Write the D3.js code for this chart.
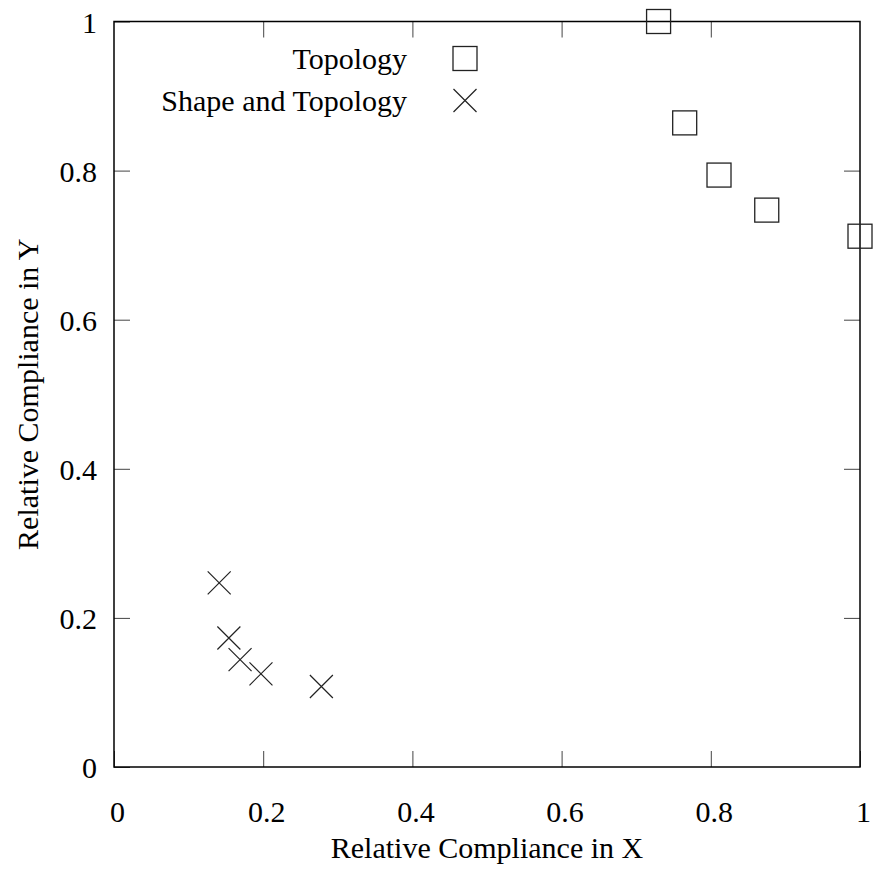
<!DOCTYPE html>
<html>
<head>
<meta charset="utf-8">
<script src="https://cdn.jsdelivr.net/npm/d3@7"></script>
<style>
  body { margin: 0; background: #fff; }
  text { font-family: "Liberation Serif", "DejaVu Serif", serif; font-size: 30px; fill: #000; }
</style>
</head>
<body>
<div id="viz"></div>
<script>
// data
var topoX = [0.73, 0.765, 0.811, 0.875, 1.0],
    topoY = [1.0, 0.864, 0.794, 0.747, 0.712],
    shapeX = [0.141, 0.154, 0.169, 0.197, 0.278],
    shapeY = [0.247, 0.173, 0.144, 0.125, 0.108],
    tickVals = [0, 0.2, 0.4, 0.6, 0.8, 1],
    seriesNames = ['Topology', 'Shape and Topology'];

var W = 873, H = 873,
    margin = { top: 21.5, right: 13, bottom: 106, left: 114 },
    width = W - margin.left - margin.right,
    height = H - margin.top - margin.bottom,
    tickLen = 16,
    sq = 24,
    cr = 11.5;

var fmt = function(d) { return d === 0 || d === 1 ? String(d) : d3.format('.1f')(d); };

var x = d3.scaleLinear().domain([0, 1]).range([0, width]);
var y = d3.scaleLinear().domain([0, 1]).range([height, 0]);

var svg = d3.select('#viz').append('svg')
    .attr('width', W)
    .attr('height', H);

var g = svg.append('g')
    .attr('transform', 'translate(' + margin.left + ',' + margin.top + ')');

// inward ticks on all four sides
function styleAxis(sel) {
  sel.select('.domain').remove();
  sel.selectAll('.tick line').attr('stroke', '#444').attr('stroke-width', 1);
}

g.append('g')
    .attr('transform', 'translate(0,' + height + ')')
    .call(d3.axisBottom(x).tickValues(tickVals).tickSize(-tickLen).tickPadding(0).tickFormat(fmt))
    .call(styleAxis)
    .selectAll('text')
    .attr('y', 55)
    .attr('dy', 0)
    .attr('dx', 3)
    .style('font-size', '30px')
    .style('font-family', '"Liberation Serif", serif')
    .attr('fill', '#000');

g.append('g')
    .call(d3.axisLeft(y).tickValues(tickVals).tickSize(-tickLen).tickPadding(0).tickFormat(fmt))
    .call(styleAxis)
    .selectAll('text')
    .attr('x', -17)
    .attr('dy', '0.35em')
    .style('font-size', '30px')
    .style('font-family', '"Liberation Serif", serif')
    .attr('fill', '#000');

g.append('g')
    .call(d3.axisTop(x).tickValues(tickVals.slice(1, -1)).tickSize(-tickLen).tickFormat(''))
    .call(styleAxis);

g.append('g')
    .attr('transform', 'translate(' + width + ',0)')
    .call(d3.axisRight(y).tickValues(tickVals.slice(1, -1)).tickSize(-tickLen).tickFormat(''))
    .call(styleAxis);

// frame
g.append('rect')
    .attr('x', 0).attr('y', 0)
    .attr('width', width).attr('height', height)
    .attr('fill', 'none')
    .attr('stroke', '#000')
    .attr('stroke-width', 1.5);

// axis titles
svg.append('text')
    .attr('x', margin.left + width / 2)
    .attr('y', 858)
    .attr('text-anchor', 'middle')
    .text('Relative Compliance in X');

svg.append('text')
    .attr('transform', 'translate(38,' + (margin.top + height / 2) + ') rotate(-90)')
    .attr('text-anchor', 'middle')
    .text('Relative Compliance in Y');

// marks
function square(sel) {
  sel.attr('x', -sq / 2).attr('y', -sq / 2)
    .attr('width', sq).attr('height', sq)
    .attr('fill', 'none')
    .attr('stroke', '#222')
    .attr('stroke-width', 1.3);
}

function cross(sel) {
  sel.attr('d', 'M' + (-cr) + ',' + (-cr) + 'L' + cr + ',' + cr + 'M' + (-cr) + ',' + cr + 'L' + cr + ',' + (-cr))
    .attr('fill', 'none')
    .attr('stroke', '#222')
    .attr('stroke-width', 1.2);
}

g.selectAll('.topo').data(topoX)
  .enter().append('rect')
    .attr('class', 'topo')
    .attr('transform', function(d, i) { return 'translate(' + x(d) + ',' + y(topoY[i]) + ')'; })
    .call(square);

g.selectAll('.shape').data(shapeX)
  .enter().append('path')
    .attr('class', 'shape')
    .attr('transform', function(d, i) { return 'translate(' + x(d) + ',' + y(shapeY[i]) + ')'; })
    .call(cross);

// legend
var legend = svg.append('g');
var rows = [58.5, 100.5];

legend.selectAll('text').data(seriesNames)
  .enter().append('text')
    .attr('x', 407)
    .attr('y', function(d, i) { return rows[i] + 10; })
    .attr('text-anchor', 'end')
    .text(function(d) { return d; });

legend.append('rect')
    .attr('transform', 'translate(465,' + rows[0] + ')')
    .call(square);

legend.append('path')
    .attr('transform', 'translate(465,' + rows[1] + ')')
    .call(cross);
</script>
</body>
</html>
